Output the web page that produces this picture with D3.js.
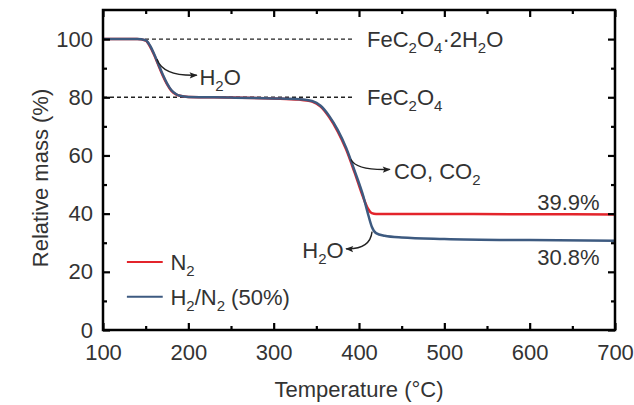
<!DOCTYPE html>
<html>
<head>
<meta charset="utf-8">
<script src="https://cdn.jsdelivr.net/npm/d3@7/dist/d3.min.js"></script>
<style>
  body { margin: 0; background: #fff; }
  text { font-family: "Liberation Sans", Arial, sans-serif; fill: #333; }
</style>
</head>
<body>
<div id="chart"></div>
<script>
// data
var tempN2 = [100, 140, 150, 155, 160, 165, 170, 175, 180, 185, 190, 200, 250, 300, 330, 345, 355, 365, 375, 385, 395, 405, 410, 415, 420, 450, 500, 600, 700];
var massN2 = [100, 100, 99.5, 97.5, 94.5, 91, 87.5, 84.5, 82.3, 81.1, 80.5, 80.1, 79.9, 79.6, 79.2, 78.5, 76.8, 73.2, 68.3, 62, 54, 45.5, 42, 40.2, 39.9, 39.9, 39.9, 39.8, 39.7];

var tempH2 = [100, 140, 150, 155, 160, 165, 170, 175, 180, 185, 190, 200, 250, 300, 330, 345, 355, 365, 375, 385, 395, 405, 410, 415, 420, 430, 450, 500, 600, 700];
var massH2 = [100, 100, 99.6, 97.8, 94.8, 91.3, 87.8, 84.8, 82.5, 81.2, 80.5, 80.1, 79.9, 79.6, 79.3, 78.7, 77.1, 73.6, 68.8, 62.6, 54.6, 46, 40.5, 35.5, 33.3, 32.4, 31.8, 31.3, 30.9, 30.7];

var xTicks = [100, 200, 300, 400, 500, 600, 700];
var xMinor = [150, 250, 350, 450, 550, 650];
var yTicks = [0, 20, 40, 60, 80, 100];
var yMinor = [10, 30, 50, 70, 90];

var width = 634, height = 405;
var margin = {top: 10, right: 19, bottom: 75, left: 103};
var w = width - margin.left - margin.right;
var h = height - margin.top - margin.bottom;
var fs = '22px';

var svg = d3.select('#chart').append('svg')
  .attr('width', width)
  .attr('height', height);

var g = svg.append('g').attr('transform', 'translate(' + margin.left + ',' + margin.top + ')');

var x = d3.scaleLinear().domain([100, 700]).range([0, w]);
var y = d3.scaleLinear().domain([0, 110]).range([h, 0]);

// writes "FeC_2O_4" style strings with subscripts
function rich(sel, str) {
  var parts = str.split(/(_\d)/);
  var shifted = false;
  parts.forEach(function(p) {
    if (!p) return;
    if (p[0] === '_') {
      sel.append('tspan').attr('font-size', '15px').attr('dy', 6).text(p.slice(1));
      shifted = true;
    } else {
      var ts = sel.append('tspan').text(p);
      if (shifted) { ts.attr('dy', -6); shifted = false; }
    }
  });
  return sel;
}

svg.append('defs').append('marker')
  .attr('id', 'head')
  .attr('viewBox', '0 0 10 10')
  .attr('refX', 9).attr('refY', 5)
  .attr('markerWidth', 11).attr('markerHeight', 8)
  .attr('markerUnits', 'userSpaceOnUse')
  .attr('orient', 'auto')
  .append('path').attr('d', 'M0,1 L10,5 L0,9 L2,5 Z').attr('fill', '#222');

// dashed reference levels
[100, 80].forEach(function(v) {
  g.append('line')
    .attr('x1', x(100)).attr('x2', x(393))
    .attr('y1', y(v)).attr('y2', y(v))
    .attr('stroke', '#222').attr('stroke-width', 1.4)
    .attr('stroke-dasharray', '4,3');
});

var line = d3.line().curve(d3.curveMonotoneX);

g.append('path')
  .attr('d', line(tempN2.map(function(t, i) { return [x(t), y(massN2[i])]; })))
  .attr('fill', 'none').attr('stroke', '#e3242b').attr('stroke-width', 2.5);

g.append('path')
  .attr('d', line(tempH2.map(function(t, i) { return [x(t), y(massH2[i])]; })))
  .attr('fill', 'none').attr('stroke', '#3d5a80').attr('stroke-width', 2.5);

// curved arrows (start, control, end in data units)
var arrows = [
  [[163.3, 93.1], [170.3, 87.2], [210, 87.6]],
  [[390.6, 58.6], [396.5, 54.8], [436.3, 55.2]],
  [[415.3, 33.8], [413, 27.6], [384.8, 27.9]]
];
arrows.forEach(function(a) {
  g.append('path')
    .attr('d', 'M' + x(a[0][0]) + ',' + y(a[0][1]) +
               ' Q' + x(a[1][0]) + ',' + y(a[1][1]) +
               ' ' + x(a[2][0]) + ',' + y(a[2][1]))
    .attr('fill', 'none').attr('stroke', '#222').attr('stroke-width', 1.4)
    .attr('marker-end', 'url(#head)');
});

// annotation texts
var notes = [
  {t: 409.4, m: 100, s: 'FeC_2O_4·2H_2O', a: 'start'},
  {t: 409.4, m: 80, s: 'FeC_2O_4', a: 'start'},
  {t: 213, m: 86.9, s: 'H_2O', a: 'start'},
  {t: 441, m: 54.5, s: 'CO, CO_2', a: 'start'},
  {t: 382, m: 27.6, s: 'H_2O', a: 'end'},
  {t: 682, m: 44.1, s: '39.9%', a: 'end'},
  {t: 682, m: 25.2, s: '30.8%', a: 'end'}
];
notes.forEach(function(n) {
  var tx = g.append('text')
    .attr('x', x(n.t)).attr('y', y(n.m) + 8)
    .attr('font-size', fs)
    .attr('text-anchor', n.a);
  rich(tx, n.s);
});

// legend
var legend = [
  {label: 'N_2', color: '#e3242b', m: 23.4},
  {label: 'H_2/N_2 (50%)', color: '#3d5a80', m: 11.4}
];
legend.forEach(function(l) {
  g.append('line')
    .attr('x1', x(128)).attr('x2', x(170))
    .attr('y1', y(l.m)).attr('y2', y(l.m))
    .attr('stroke', l.color).attr('stroke-width', 2);
  var tx = g.append('text')
    .attr('x', x(179)).attr('y', y(l.m) + 8)
    .attr('font-size', fs);
  rich(tx, l.label);
});

// axes, ticks inward on all sides
function styleAxis(sel) {
  sel.select('.domain').remove();
  sel.selectAll('.tick line').attr('stroke', '#000').attr('stroke-width', 2.2);
  sel.selectAll('.tick text').attr('font-size', fs).attr('fill', '#333')
    .attr('font-family', '"Liberation Sans", Arial, sans-serif');
}

g.append('g').attr('transform', 'translate(0,' + h + ')')
  .call(d3.axisBottom(x).tickValues(xTicks).tickSizeInner(-7).tickSizeOuter(0).tickPadding(14))
  .call(styleAxis);
g.append('g').attr('transform', 'translate(0,' + h + ')')
  .call(d3.axisBottom(x).tickValues(xMinor).tickSizeInner(-4).tickSizeOuter(0).tickFormat(''))
  .call(styleAxis);
g.append('g')
  .call(d3.axisTop(x).tickValues(xTicks).tickSizeInner(-7).tickSizeOuter(0).tickFormat(''))
  .call(styleAxis);
g.append('g')
  .call(d3.axisTop(x).tickValues(xMinor).tickSizeInner(-4).tickSizeOuter(0).tickFormat(''))
  .call(styleAxis);

g.append('g')
  .call(d3.axisLeft(y).tickValues(yTicks).tickSizeInner(-7).tickSizeOuter(0).tickPadding(10))
  .call(styleAxis);
g.append('g')
  .call(d3.axisLeft(y).tickValues(yMinor).tickSizeInner(-4).tickSizeOuter(0).tickFormat(''))
  .call(styleAxis);
g.append('g').attr('transform', 'translate(' + w + ',0)')
  .call(d3.axisRight(y).tickValues(yTicks).tickSizeInner(-7).tickSizeOuter(0).tickFormat(''))
  .call(styleAxis);
g.append('g').attr('transform', 'translate(' + w + ',0)')
  .call(d3.axisRight(y).tickValues(yMinor).tickSizeInner(-4).tickSizeOuter(0).tickFormat(''))
  .call(styleAxis);

g.append('rect')
  .attr('width', w).attr('height', h)
  .attr('fill', 'none').attr('stroke', '#000').attr('stroke-width', 2.5);

// axis titles
svg.append('text')
  .attr('x', margin.left + w / 2).attr('y', 397)
  .attr('text-anchor', 'middle').attr('font-size', fs)
  .text('Temperature (°C)');

svg.append('text')
  .attr('transform', 'translate(48,178) rotate(-90)')
  .attr('text-anchor', 'middle').attr('font-size', fs)
  .text('Relative mass (%)');
</script>
</body>
</html>
